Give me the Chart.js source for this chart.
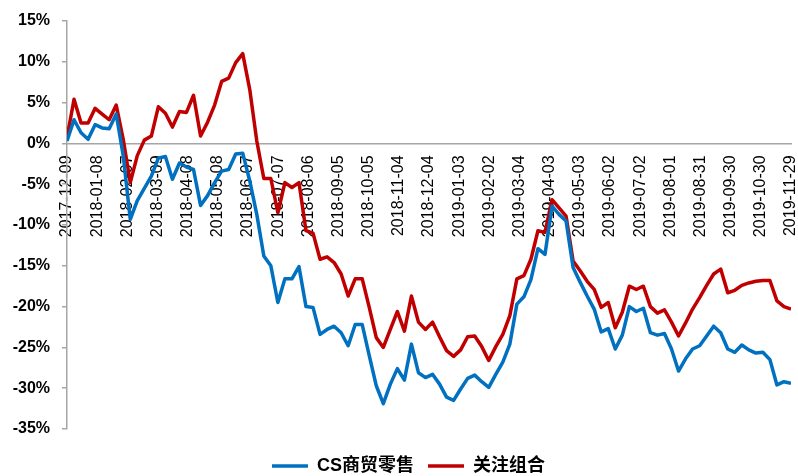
<!DOCTYPE html>
<html>
<head>
<meta charset="utf-8">
<script src="https://cdn.jsdelivr.net/npm/chart.js@4.4.1/dist/chart.umd.min.js"></script>
<style>
  html, body { margin: 0; padding: 0; background: #ffffff; }
  #wrap { width: 798px; height: 476px; position: relative; }
</style>
</head>
<body>
<div id="wrap"><canvas id="c" width="798" height="476"></canvas></div>
<script>
// X-axis tick labels (every 30 days)
const tickLabels = [
  "2017-12-09","2018-01-08","2018-02-07","2018-03-09","2018-04-08","2018-05-08",
  "2018-06-07","2018-07-07","2018-08-06","2018-09-05","2018-10-05","2018-11-04",
  "2018-12-04","2019-01-03","2019-02-02","2019-03-04","2019-04-03","2019-05-03",
  "2019-06-02","2019-07-02","2019-08-01","2019-08-31","2019-09-30","2019-10-30",
  "2019-11-29"
];
const tickStepDays = 30;
const totalDays = 720;

// Series names
const seriesNames = ["CS商贸零售", "关注组合"];

// Weekly cumulative returns (%) — CS商贸零售
const csRetail = [
  0.3, 2.9, 1.3, 0.5, 2.3, 1.9, 1.8, 3.6, -1.5, -9.3,
  -7.0, -5.5, -4.0, -1.8, -1.6, -4.4, -2.4, -2.9, -3.2, -7.6,
  -6.4, -4.8, -3.4, -3.2, -1.3, -1.2, -4.6, -8.7, -13.8, -15.0,
  -19.5, -16.6, -16.6, -15.1, -20.0, -20.1, -23.4, -22.8, -22.4, -23.2,
  -24.8, -22.2, -22.2, -26.0, -29.7, -31.9, -29.5, -27.6, -29.0, -24.6,
  -28.1, -28.7, -28.3, -29.5, -31.1, -31.5, -30.1, -28.8, -28.4, -29.2,
  -29.9, -28.3, -26.8, -24.6, -19.7, -18.8, -16.7, -12.9, -13.6, -7.7,
  -8.7, -9.5, -15.2, -17.0, -18.7, -20.3, -23.1, -22.7, -25.2, -23.5,
  -20.0, -20.6, -20.2, -23.2, -23.5, -23.3, -25.2, -27.9, -26.4, -25.2,
  -24.8, -23.6, -22.4, -23.2, -25.2, -25.6, -24.7, -25.3, -25.7, -25.6,
  -26.5, -29.6, -29.2, -29.4
];

// Weekly cumulative returns (%) — 关注组合
const focusPortfolio = [
  0.7, 5.4, 2.5, 2.5, 4.3, 3.6, 2.9, 4.7, 0.5, -4.8,
  -1.5, 0.4, 0.9, 4.5, 3.7, 2.0, 3.9, 3.8, 5.9, 0.9,
  2.6, 4.7, 7.6, 8.0, 9.9, 11.0, 6.6, 0.3, -4.3, -4.3,
  -8.5, -4.8, -5.4, -4.8, -10.7, -11.0, -14.2, -13.9, -14.6, -16.0,
  -18.7, -16.6, -16.6, -20.1, -23.8, -25.0, -22.8, -20.6, -23.0, -18.7,
  -21.9, -22.8, -21.9, -23.7, -25.4, -26.1, -25.3, -23.7, -23.6, -24.9,
  -26.6, -24.9, -23.4, -21.1, -16.6, -16.2, -14.2, -10.7, -10.9, -6.9,
  -7.9, -8.9, -14.4, -15.6, -16.9, -17.9, -20.1, -19.5, -22.6, -20.7,
  -17.5, -17.9, -17.5, -20.0, -20.8, -20.4, -21.9, -23.6, -22.0, -20.3,
  -18.9, -17.4, -16.0, -15.4, -18.3, -18.0, -17.4, -17.1, -16.9, -16.8,
  -16.8, -19.3, -20.0, -20.3
];

const yTicks = [-35, -30, -25, -20, -15, -10, -5, 0, 5, 10, 15];

function toPoints(arr) {
  const n = arr.length;
  return arr.map((v, i) => ({ x: i * totalDays / (n - 1), y: v }));
}

const latin = '"Liberation Sans", Arial, "Noto Sans CJK SC", sans-serif';

new Chart(document.getElementById('c'), {
  type: 'line',
  data: {
    datasets: [
      {
        label: seriesNames[0],
        data: toPoints(csRetail),
        borderColor: '#0070C0',
        backgroundColor: '#0070C0',
        borderWidth: 3.5,
        pointRadius: 0,
        tension: 0,
        borderJoinStyle: 'round'
      },
      {
        label: seriesNames[1],
        data: toPoints(focusPortfolio),
        borderColor: '#C00000',
        backgroundColor: '#C00000',
        borderWidth: 3.5,
        pointRadius: 0,
        tension: 0,
        borderJoinStyle: 'round'
      }
    ]
  },
  options: {
    responsive: false,
    animation: false,
    devicePixelRatio: 1,
    layout: { padding: { left: 26, right: 7, top: 21, bottom: -9 } },
    plugins: {
      legend: {
        display: true,
        position: 'bottom',
        title: { display: true, text: ' ', padding: 0, font: { size: 14, lineHeight: 1 } },
        labels: {
          usePointStyle: true,
          pointStyle: 'line',
          pointStyleWidth: 36,
          padding: 14,
          color: '#000000',
          font: { family: latin, size: 18, weight: 'bold' }
        }
      },
      tooltip: { enabled: false }
    },
    scales: {
      x: {
        type: 'linear',
        position: { y: 0 },
        min: 0,
        max: totalDays,
        grid: { display: false },
        border: { display: true, color: '#a6a6a6', width: 1.5 },
        afterBuildTicks: (scale) => {
          scale.ticks = tickLabels.map((_, i) => ({ value: i * tickStepDays }));
        },
        afterFit: (scale) => { scale.paddingRight = 0; scale.paddingLeft = 0; },
        ticks: {
          autoSkip: false,
          minRotation: 90,
          maxRotation: 90,
          padding: 4,
          color: '#000000',
          font: { family: latin, size: 16 },
          callback: (value, index) => tickLabels[index]
        }
      },
      y: {
        min: -35,
        max: 15,
        afterBuildTicks: (scale) => {
          scale.ticks = yTicks.map(v => ({ value: v }));
        },
        afterFit: (scale) => { scale.width = 41; },
        grid: {
          display: true,
          drawOnChartArea: false,
          drawTicks: true,
          tickLength: 5,
          color: '#a6a6a6',
          lineWidth: 1.5
        },
        border: { display: true, color: '#a6a6a6', width: 1.5 },
        ticks: {
          mirror: true,
          crossAlign: 'far',
          padding: -54.3,
          color: '#000000',
          font: { family: latin, size: 16, weight: 'bold' },
          callback: (v) => v + '%'
        }
      }
    }
  }
});
</script>
</body>
</html>
